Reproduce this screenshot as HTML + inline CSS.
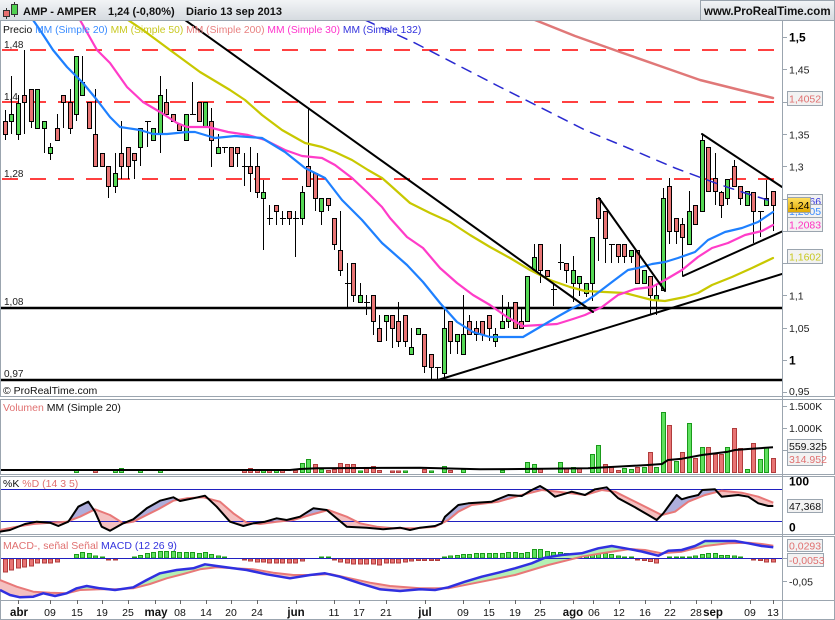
<!DOCTYPE html>
<html><head><meta charset="utf-8"><style>
html,body{margin:0;padding:0;background:#fff;}
svg{display:block;font-family:"Liberation Sans",sans-serif;}
</style></head><body>
<svg width="835" height="620" viewBox="0 0 835 620" xmlns="http://www.w3.org/2000/svg">
<defs>
<linearGradient id="hg" x1="0" y1="0" x2="0" y2="1"><stop offset="0" stop-color="#f2f4f6"/><stop offset="1" stop-color="#d6dbe0"/></linearGradient>
<linearGradient id="gold" x1="0" y1="0" x2="0" y2="1"><stop offset="0" stop-color="#ffe060"/><stop offset="1" stop-color="#e0a800"/></linearGradient>
<clipPath id="cm"><rect x="1" y="21" width="781" height="375"/></clipPath>
<clipPath id="aboveD"><polygon points="0,530 16.7,526.7 33.3,524 50,522.7 66.7,521.7 80,516.7 95,509.3 110,515 123.3,523.3 133.3,521.7 146.7,515 160,508.3 173.3,500.7 186.7,498.3 203.3,497.3 220,501.7 233.3,513.3 246.7,522.7 260,524 276.7,521.7 293.3,520 310,515 328.3,510 346.7,516.7 360,523.3 376.7,526.7 393.3,528.3 415,528.3 435,526.7 448.3,520 458.3,511.7 471.7,505 498.3,501.7 521.7,495 541.7,490 558.3,491.7 585,495 601.7,490 615,491.7 631.7,500 648.3,508.3 661.7,515 675,511.7 688.3,501.7 705,495 721.7,490.7 741.7,492.7 758.3,496.7 773.3,502.7 773.3,476 0,476"/></clipPath>
<clipPath id="belowD"><polygon points="0,530 16.7,526.7 33.3,524 50,522.7 66.7,521.7 80,516.7 95,509.3 110,515 123.3,523.3 133.3,521.7 146.7,515 160,508.3 173.3,500.7 186.7,498.3 203.3,497.3 220,501.7 233.3,513.3 246.7,522.7 260,524 276.7,521.7 293.3,520 310,515 328.3,510 346.7,516.7 360,523.3 376.7,526.7 393.3,528.3 415,528.3 435,526.7 448.3,520 458.3,511.7 471.7,505 498.3,501.7 521.7,495 541.7,490 558.3,491.7 585,495 601.7,490 615,491.7 631.7,500 648.3,508.3 661.7,515 675,511.7 688.3,501.7 705,495 721.7,490.7 741.7,492.7 758.3,496.7 773.3,502.7 773.3,534 0,534"/></clipPath>
<clipPath id="aboveS"><polygon points="0,580 16.7,586.7 33.3,591.7 50,592.7 66.7,593.3 80,590 100,589.3 116.7,589.3 133.3,588.3 150,584 166.7,578.3 183.3,574 200,569.3 216.7,567.3 233.3,568.3 253.3,569.3 273.3,572.7 293.3,575 313.3,575 330,574 350,578.3 370,582.7 390,586 420,588.3 448.3,588.3 481.7,581.7 515,575 548.3,565 581.7,556.7 605,552.7 630,549 645,550 661.7,553.3 681.7,551.7 705,546 728.3,543.3 748.3,542.7 761.7,544 773.3,545.7 773.3,536 0,536"/></clipPath>
<clipPath id="belowS"><polygon points="0,580 16.7,586.7 33.3,591.7 50,592.7 66.7,593.3 80,590 100,589.3 116.7,589.3 133.3,588.3 150,584 166.7,578.3 183.3,574 200,569.3 216.7,567.3 233.3,568.3 253.3,569.3 273.3,572.7 293.3,575 313.3,575 330,574 350,578.3 370,582.7 390,586 420,588.3 448.3,588.3 481.7,581.7 515,575 548.3,565 581.7,556.7 605,552.7 630,549 645,550 661.7,553.3 681.7,551.7 705,546 728.3,543.3 748.3,542.7 761.7,544 773.3,545.7 773.3,600 0,600"/></clipPath>
</defs>

<rect x="0" y="0" width="835" height="620" fill="#fff"/>
<!-- header -->
<rect x="0" y="0" width="835" height="20" fill="url(#hg)"/>
<line x1="0" y1="20.5" x2="835" y2="20.5" stroke="#9ba5af"/>
<rect x="700.5" y="0.5" width="134" height="20" fill="url(#hg)" stroke="#9ba5af"/>
<line x1="6.5" y1="8" x2="6.5" y2="19" stroke="#333"/><rect x="3.5" y="10.5" width="6" height="6" fill="#e87070" stroke="#333"/>
<line x1="14.5" y1="2" x2="14.5" y2="17" stroke="#333"/><rect x="11.5" y="4.5" width="6" height="10" fill="#50d050" stroke="#333"/>
<text x="23" y="15" font-size="11" font-weight="bold" fill="#111">AMP - AMPER</text>
<text x="108" y="15" font-size="11" font-weight="bold" fill="#111">1,24 (-0,80%)</text>
<text x="186" y="15" font-size="11" font-weight="bold" fill="#111">Diario  13 sep 2013</text>
<text x="704" y="15" font-size="11.5" font-weight="bold" fill="#111">www.ProRealTime.com</text>

<!-- frames -->
<rect x="0.5" y="20.5" width="834" height="376" fill="none" stroke="#9ba5af"/>
<rect x="0.5" y="399.5" width="834" height="75" fill="none" stroke="#9ba5af"/>
<rect x="0.5" y="476.5" width="834" height="58" fill="none" stroke="#9ba5af"/>
<rect x="0.5" y="536.5" width="834" height="64" fill="none" stroke="#9ba5af"/>
<rect x="0.5" y="600.5" width="834" height="19" fill="none" stroke="#9ba5af"/>
<line x1="782.5" y1="20" x2="782.5" y2="620" stroke="#9ba5af"/>

<!-- main panel -->
<g clip-path="url(#cm)">
<g stroke="#ff0000" stroke-width="1.5" stroke-dasharray="16 12">
<line x1="2" y1="50" x2="782" y2="50"/>
<line x1="2" y1="102" x2="782" y2="102"/>
<line x1="2" y1="179" x2="782" y2="179"/>
</g>
<line x1="0" y1="308" x2="782" y2="308" stroke="#000" stroke-width="2.5"/>
<line x1="0" y1="380" x2="782" y2="380" stroke="#000" stroke-width="2.5"/>

<!-- candles -->
<path fill="none" stroke="#000" stroke-width="1" d="M5.5 110V140M11.5 76V134M18.5 95V140M24.5 50V134M31.5 89V128M37.5 89V128M44.5 121V153M50.5 143V160M57.5 114V140M63.5 95V128M70.5 89V134M76.5 56V121M82.5 56V95M89.5 102V128M95.5 89V166M102.5 153V166M108.5 166V198M115.5 153V193M121.5 121V179M128.5 147V179M134.5 153V179M140.5 128V166M147.5 121V147M153.5 128V140M160.5 76V153M166.5 89V114M173.5 114V121M179.5 124V130M186.5 114V140M192.5 82V114M199.5 102V121M205.5 102V126M211.5 108V167M218.5 134V153M224.5 147V153M231.5 147V166M237.5 147V167M244.5 153V186M250.5 147V192M257.5 153V198M263.5 180V250M269.5 205V225M276.5 205V225M282.5 211V225M289.5 211V225M295.5 211V257M302.5 186V225M308.5 108V186M315.5 173V211M321.5 198V225M328.5 198V211M334.5 218V250M340.5 211V276M347.5 263V308M353.5 263V302M360.5 283V302M366.5 295V315M373.5 295V335M379.5 315V341M386.5 315V341M392.5 315V348M398.5 302V347M405.5 315V347M411.5 328V354M418.5 328V334M424.5 334V373M431.5 354V379M437.5 367V380M444.5 308V380M450.5 321V354M457.5 334V354M463.5 295V354M469.5 315V334M476.5 321V341M482.5 321V341M489.5 315V341M495.5 328V347M502.5 295V328M508.5 302V328M515.5 302V328M521.5 308V328M527.5 276V321M534.5 244V270M540.5 244V283M547.5 270V276M553.5 283V306M560.5 244V270M566.5 263V283M573.5 256V302M579.5 276V296M586.5 283V297M592.5 237V301M598.5 198V261M605.5 211V263M611.5 244V263M618.5 244V263M624.5 244V263M631.5 250V263M637.5 250V283M644.5 270V283M650.5 276V315M656.5 285V315M663.5 188V290M669.5 178V244M676.5 218V244M682.5 218V276M689.5 191V244M695.5 205V224M702.5 135V211M708.5 147V191M715.5 153V205M721.5 191V218M727.5 179V205M734.5 160V186M740.5 186V205M747.5 191V205M753.5 192V243M760.5 211V237M766.5 180V205M773.5 191V231M145 121.5h6M190 114.5h6M222 147.5h6M242 166.5h6M267 218.5h6M280 218.5h6M293 218.5h6M345 283.5h6M364 302.5h6M435 367.5h6M551 289.5h6M558 262.5h6M609 244.5h6M758 211.5h6"/>
<path fill="#55d855" stroke="#000" stroke-width="1" d="M9.5 114.5h4V121.5h-4zM16.5 103.5h4V134.5h-4zM35.5 89.5h4V128.5h-4zM42.5 121.5h4V128.5h-4zM48.5 147.5h4V153.5h-4zM74.5 56.5h4V114.5h-4zM80.5 82.5h4V95.5h-4zM113.5 173.5h4V186.5h-4zM138.5 128.5h4V147.5h-4zM151.5 128.5h4V140.5h-4zM158.5 95.5h4V134.5h-4zM184.5 114.5h4V140.5h-4zM203.5 102.5h4V126.5h-4zM216.5 147.5h4V153.5h-4zM261.5 192.5h4V198.5h-4zM300.5 192.5h4V218.5h-4zM319.5 198.5h4V211.5h-4zM358.5 295.5h4V302.5h-4zM384.5 315.5h4V321.5h-4zM409.5 347.5h4V354.5h-4zM416.5 328.5h4V334.5h-4zM442.5 328.5h4V373.5h-4zM455.5 334.5h4V341.5h-4zM461.5 334.5h4V354.5h-4zM493.5 334.5h4V341.5h-4zM500.5 321.5h4V328.5h-4zM506.5 308.5h4V321.5h-4zM525.5 276.5h4V321.5h-4zM532.5 257.5h4V270.5h-4zM571.5 270.5h4V283.5h-4zM577.5 276.5h4V283.5h-4zM584.5 283.5h4V293.5h-4zM590.5 237.5h4V283.5h-4zM629.5 250.5h4V256.5h-4zM642.5 270.5h4V283.5h-4zM654.5 295.5h4V300.5h-4zM661.5 198.5h4V290.5h-4zM687.5 211.5h4V244.5h-4zM700.5 140.5h4V211.5h-4zM725.5 179.5h4V198.5h-4zM745.5 191.5h4V205.5h-4zM764.5 198.5h4V205.5h-4z"/>
<path fill="#e87474" stroke="#000" stroke-width="1" d="M3.5 121.5h4V134.5h-4zM22.5 95.5h4V102.5h-4zM29.5 89.5h4V121.5h-4zM55.5 128.5h4V140.5h-4zM61.5 95.5h4V102.5h-4zM68.5 102.5h4V128.5h-4zM87.5 102.5h4V128.5h-4zM93.5 134.5h4V166.5h-4zM100.5 153.5h4V166.5h-4zM106.5 166.5h4V186.5h-4zM119.5 153.5h4V166.5h-4zM126.5 147.5h4V166.5h-4zM132.5 153.5h4V160.5h-4zM164.5 102.5h4V114.5h-4zM171.5 114.5h4V121.5h-4zM177.5 124.5h4V130.5h-4zM197.5 102.5h4V121.5h-4zM209.5 121.5h4V140.5h-4zM229.5 147.5h4V166.5h-4zM235.5 147.5h4V153.5h-4zM248.5 166.5h4V173.5h-4zM255.5 166.5h4V192.5h-4zM274.5 205.5h4V211.5h-4zM287.5 211.5h4V218.5h-4zM306.5 166.5h4V186.5h-4zM313.5 173.5h4V198.5h-4zM326.5 198.5h4V205.5h-4zM332.5 218.5h4V244.5h-4zM338.5 250.5h4V270.5h-4zM351.5 263.5h4V295.5h-4zM371.5 295.5h4V321.5h-4zM377.5 328.5h4V341.5h-4zM390.5 315.5h4V328.5h-4zM396.5 321.5h4V341.5h-4zM403.5 315.5h4V341.5h-4zM422.5 334.5h4V366.5h-4zM429.5 354.5h4V367.5h-4zM448.5 321.5h4V341.5h-4zM467.5 321.5h4V334.5h-4zM474.5 328.5h4V334.5h-4zM480.5 321.5h4V334.5h-4zM487.5 315.5h4V328.5h-4zM513.5 302.5h4V328.5h-4zM519.5 321.5h4V328.5h-4zM538.5 244.5h4V270.5h-4zM545.5 270.5h4V276.5h-4zM564.5 263.5h4V270.5h-4zM596.5 198.5h4V218.5h-4zM603.5 211.5h4V238.5h-4zM616.5 244.5h4V256.5h-4zM622.5 244.5h4V256.5h-4zM635.5 250.5h4V283.5h-4zM648.5 276.5h4V295.5h-4zM667.5 186.5h4V231.5h-4zM674.5 218.5h4V231.5h-4zM680.5 224.5h4V237.5h-4zM693.5 205.5h4V224.5h-4zM706.5 147.5h4V191.5h-4zM713.5 178.5h4V191.5h-4zM719.5 192.5h4V205.5h-4zM732.5 166.5h4V186.5h-4zM738.5 186.5h4V198.5h-4zM751.5 192.5h4V211.5h-4zM771.5 191.5h4V205.5h-4z"/>

<!-- moving averages -->
<g fill="none" stroke-linejoin="round" stroke-linecap="round">
<polyline stroke="#e07878" stroke-width="2.5" points="535,20 575,36 620,52 660,66 700,80 740,90 773,98"/>
<polyline stroke="#2a2ad0" stroke-width="1.5" stroke-dasharray="10 8" points="365,20 413,42 500,87 585,130 628,148 675,168 718,184 741,191.7 773,201.7"/>
<polyline stroke="#c8c800" stroke-width="2.2" points="128,20 143,30 170,50 200,72 230,90 245,100 262,115 282,130 305,143 322,147 335,152 352,160 368,170 382,178 390,185 410,203 430,213 450,222 470,235 490,247 510,258 530,270 550,280 570,287 585,291 605,292 625,293 652,300 665,301 685,297 698,293 712,285 732,277 752,268 773,258"/>
<polyline stroke="#ff3cc8" stroke-width="2.2" points="80,20 97,50 110,63 127,87 143,102 160,112 177,123 187,127 195,127 208,127 228,132 248,135 265,140 285,150 302,156 322,158 335,165 352,178 368,193 382,207 390,218 407,237 423,248 440,268 457,283 473,295 490,305 507,317 523,326 540,325 557,324 573,319 585,315 602,307 618,295 635,289 652,287 665,280 682,270 698,257 712,248 728,243 745,235 762,231 773,225"/>
<polyline stroke="#1e80ff" stroke-width="2.2" points="33,20 40,30 53,50 67,67 83,83 97,100 110,117 120,127 140,130 153,134 167,134 187,132 195,132 215,138 235,136 262,138 285,152 305,168 325,178 342,200 362,220 382,243 390,250 407,265 423,282 440,303 457,322 473,332 490,337 507,337 523,337 540,327 557,317 573,308 585,302 595,295 612,282 628,270 638,268 652,264 665,262 678,258 695,252 708,240 725,232 742,228 758,222 773,212"/>
</g>
<!-- trend lines -->
<g stroke="#000" stroke-width="2" stroke-linecap="round">
<line x1="185" y1="20" x2="593" y2="312"/>
<line x1="438" y1="380" x2="782" y2="274"/>
<line x1="599" y1="198" x2="665" y2="291"/>
<line x1="702" y1="134" x2="782" y2="187"/>
<line x1="683" y1="276" x2="782" y2="231.5"/>
</g>
</g>

<g font-size="10" fill="#222">
<text x="4" y="48">1,48</text>
<text x="4" y="100">1,4</text>
<text x="4" y="177">1,28</text>
<text x="4" y="305">1,08</text>
<text x="4" y="377">0,97</text>
</g>
<text x="3" y="33" font-size="10.3"><tspan fill="#111">Precio </tspan><tspan fill="#3a8cff">MM (Simple 20) </tspan><tspan fill="#c8c820">MM (Simple 50) </tspan><tspan fill="#e88080">MM (Simple 200) </tspan><tspan fill="#ff33cc">MM (Simple 30) </tspan><tspan fill="#3333dd">MM (Simple 132)</tspan></text>
<text x="3" y="394" font-size="10.5" fill="#111">© ProRealTime.com</text>

<!-- right axis main -->
<g stroke="#9ba5af"><path d="M782 37.5h5M782 69.5h5M782 102.5h5M782 134.5h5M782 166.5h5M782 199.5h5M782 231.5h5M782 263.5h5M782 295.5h5M782 328.5h5M782 360.5h5M782 392.5h5M782 406.5h5M782 428.5h5M782 450.5h5M782 558.5h5M782 581.5h5"/></g>
<g font-size="10.5" fill="#222">
<text x="789" y="41.5" font-weight="bold" font-size="12" fill="#000">1,5</text>
<text x="789" y="73.5">1,45</text>
<text x="789" y="138.5">1,35</text>
<text x="789" y="170.5">1,3</text>
<text x="789" y="299.5">1,1</text>
<text x="789" y="332">1,05</text>
<text x="789" y="364.5" font-weight="bold" font-size="12" fill="#000">1</text>
<text x="789" y="395">0,95</text>
</g>
<rect x="787.5" y="91.5" width="35" height="14" fill="#f2f2f2" stroke="#9ba5af"/>
<text x="789" y="102.5" font-size="10.5" fill="#e07070">1,4052</text>
<rect x="787.5" y="194.5" width="35" height="13" fill="#f2f2f2" stroke="#9ba5af"/>
<text x="789" y="205" font-size="10.5" fill="#3333dd">1,2066</text>
<rect x="787.5" y="204.5" width="35" height="13" fill="#f2f2f2" stroke="#9ba5af"/>
<text x="789" y="215" font-size="10.5" fill="#3a8cff">1,2005</text>
<rect x="787.5" y="197.5" width="23" height="15" fill="url(#gold)" stroke="#9ba5af"/>
<text x="789" y="209" font-size="10.5" fill="#000">1,24</text>
<rect x="787.5" y="217.5" width="35" height="14" fill="#f2f2f2" stroke="#9ba5af"/>
<text x="789" y="228.5" font-size="10.5" fill="#ff30c0">1,2083</text>
<rect x="787.5" y="249.5" width="35" height="14" fill="#f2f2f2" stroke="#9ba5af"/>
<text x="789" y="260.5" font-size="10.5" fill="#c8c820">1,1602</text>

<!-- volume -->
<path fill="#5ee05e" stroke="#1a9a1a" stroke-width="1" d="M74.5 470.5h4V472.5h-4zM113.5 470.5h4V472.5h-4zM119.5 468.5h4V472.5h-4zM138.5 470.5h4V472.5h-4zM158.5 470.5h4V472.5h-4zM261.5 469.5h4V472.5h-4zM274.5 469.5h4V472.5h-4zM300.5 463.5h4V472.5h-4zM306.5 459.5h4V472.5h-4zM319.5 469.5h4V472.5h-4zM358.5 471h4V472.5h-4zM403.5 471h4V472.5h-4zM429.5 471h4V472.5h-4zM442.5 466.5h4V472.5h-4zM461.5 469.5h4V472.5h-4zM500.5 470.5h4V472.5h-4zM525.5 462.5h4V472.5h-4zM532.5 464.5h4V472.5h-4zM558.5 462.5h4V472.5h-4zM571.5 467.5h4V472.5h-4zM590.5 454.5h4V472.5h-4zM596.5 445.5h4V472.5h-4zM622.5 468.5h4V472.5h-4zM629.5 469.5h4V472.5h-4zM642.5 467.5h4V472.5h-4zM654.5 467.5h4V472.5h-4zM661.5 412.5h4V472.5h-4zM674.5 461.5h4V472.5h-4zM687.5 423.5h4V472.5h-4zM700.5 447.5h4V472.5h-4zM725.5 447.5h4V472.5h-4zM745.5 469.5h4V472.5h-4zM758.5 459.5h4V472.5h-4zM764.5 447.5h4V472.5h-4z"/>
<path fill="#e87474" stroke="#b03c3c" stroke-width="1" d="M93.5 469.5h4V472.5h-4zM242.5 470.5h4V472.5h-4zM248.5 468.5h4V472.5h-4zM255.5 469.5h4V472.5h-4zM267.5 470.5h4V472.5h-4zM280.5 470.5h4V472.5h-4zM293.5 470.5h4V472.5h-4zM313.5 464.5h4V472.5h-4zM326.5 470.5h4V472.5h-4zM332.5 469.5h4V472.5h-4zM338.5 463.5h4V472.5h-4zM345.5 464.5h4V472.5h-4zM351.5 464.5h4V472.5h-4zM364.5 468.5h4V472.5h-4zM371.5 466.5h4V472.5h-4zM377.5 470.5h4V472.5h-4zM390.5 471h4V472.5h-4zM396.5 471h4V472.5h-4zM422.5 469.5h4V472.5h-4zM448.5 470.5h4V472.5h-4zM538.5 468.5h4V472.5h-4zM564.5 468.5h4V472.5h-4zM577.5 468.5h4V472.5h-4zM603.5 464.5h4V472.5h-4zM609.5 466.5h4V472.5h-4zM616.5 470.5h4V472.5h-4zM635.5 467.5h4V472.5h-4zM648.5 452.5h4V472.5h-4zM667.5 425.5h4V472.5h-4zM680.5 452.5h4V472.5h-4zM693.5 458.5h4V472.5h-4zM706.5 447.5h4V472.5h-4zM713.5 454.5h4V472.5h-4zM719.5 454.5h4V472.5h-4zM732.5 428.5h4V472.5h-4zM738.5 448.5h4V472.5h-4zM751.5 443.5h4V472.5h-4zM771.5 458.5h4V472.5h-4z"/>
<polyline fill="none" stroke="#000" stroke-width="2" stroke-linejoin="round" points="1,470 290,470 300,469 317,468.3 420,467.7 480,469.3 520,469 588,468.3 648,465 662,464 668,460 682,458.7 702,455 728,451.7 735,450 748,449 773,447.3"/>
<text x="3" y="411" font-size="10.5"><tspan fill="#e07070">Volumen </tspan><tspan fill="#111">MM (Simple 20)</tspan></text>
<g font-size="10.5" fill="#222">
<text x="789" y="410">1.500K</text>
<text x="789" y="432">1.000K</text>
</g>
<rect x="787.5" y="439.5" width="35" height="13" fill="#f2f2f2" stroke="#9ba5af"/>
<text x="789" y="450" font-size="10.5" fill="#111">559.325</text>
<rect x="787.5" y="452.5" width="35" height="13" fill="#f2f2f2" stroke="#9ba5af"/>
<text x="789" y="463" font-size="10.5" fill="#e07070">314.952</text>

<!-- stochastic -->
<g>
<polygon clip-path="url(#aboveD)" fill="#aeaedc" points="0,531.7 10,530 25,524 36.7,521.7 50,522.7 58.3,526 68.3,521.7 71.7,516.7 78.3,506.7 88.3,501.7 95,511.7 101.7,526.7 110,530.7 123.3,523.3 133.3,519.3 146.7,508.3 160,500.7 173.3,497.3 180,501 193.3,498.3 205,495.7 216.7,506.7 230,521.7 243.3,526 253.3,523.3 265,521.7 276.7,518.3 286.7,520 300,516.7 313.3,508.3 326.7,510 346.7,526.7 366.7,527.7 383.3,529.3 400,527.7 410,530 420,527.7 435,526 441.7,523.3 445,516.7 458.3,505 468.3,503.3 491.7,501.7 508.3,495 521.7,496 531.7,490 540,486 546.7,490 555,496.7 571.7,491.7 585,495 595,489.3 606.7,487.3 618.3,498.3 635,507.3 648.3,515 656.7,520 663.3,513.3 676.7,495 681.7,499.3 688.3,497.3 698.3,495 702.3,490 715,489.3 721.7,496.7 738.3,495 748.3,496.7 758.3,503.3 768.3,506 773.3,506 773.3,502.7 758.3,496.7 741.7,492.7 721.7,490.7 705,495 688.3,501.7 675,511.7 661.7,515 648.3,508.3 631.7,500 615,491.7 601.7,490 585,495 558.3,491.7 541.7,490 521.7,495 498.3,501.7 471.7,505 458.3,511.7 448.3,520 435,526.7 415,528.3 393.3,528.3 376.7,526.7 360,523.3 346.7,516.7 328.3,510 310,515 293.3,520 276.7,521.7 260,524 246.7,522.7 233.3,513.3 220,501.7 203.3,497.3 186.7,498.3 173.3,500.7 160,508.3 146.7,515 133.3,521.7 123.3,523.3 110,515 95,509.3 80,516.7 66.7,521.7 50,522.7 33.3,524 16.7,526.7 0,530"/>
<polygon clip-path="url(#belowD)" fill="#f4c0c0" points="0,531.7 10,530 25,524 36.7,521.7 50,522.7 58.3,526 68.3,521.7 71.7,516.7 78.3,506.7 88.3,501.7 95,511.7 101.7,526.7 110,530.7 123.3,523.3 133.3,519.3 146.7,508.3 160,500.7 173.3,497.3 180,501 193.3,498.3 205,495.7 216.7,506.7 230,521.7 243.3,526 253.3,523.3 265,521.7 276.7,518.3 286.7,520 300,516.7 313.3,508.3 326.7,510 346.7,526.7 366.7,527.7 383.3,529.3 400,527.7 410,530 420,527.7 435,526 441.7,523.3 445,516.7 458.3,505 468.3,503.3 491.7,501.7 508.3,495 521.7,496 531.7,490 540,486 546.7,490 555,496.7 571.7,491.7 585,495 595,489.3 606.7,487.3 618.3,498.3 635,507.3 648.3,515 656.7,520 663.3,513.3 676.7,495 681.7,499.3 688.3,497.3 698.3,495 702.3,490 715,489.3 721.7,496.7 738.3,495 748.3,496.7 758.3,503.3 768.3,506 773.3,506 773.3,502.7 758.3,496.7 741.7,492.7 721.7,490.7 705,495 688.3,501.7 675,511.7 661.7,515 648.3,508.3 631.7,500 615,491.7 601.7,490 585,495 558.3,491.7 541.7,490 521.7,495 498.3,501.7 471.7,505 458.3,511.7 448.3,520 435,526.7 415,528.3 393.3,528.3 376.7,526.7 360,523.3 346.7,516.7 328.3,510 310,515 293.3,520 276.7,521.7 260,524 246.7,522.7 233.3,513.3 220,501.7 203.3,497.3 186.7,498.3 173.3,500.7 160,508.3 146.7,515 133.3,521.7 123.3,523.3 110,515 95,509.3 80,516.7 66.7,521.7 50,522.7 33.3,524 16.7,526.7 0,530"/>
</g>
<line x1="1" y1="489.5" x2="782" y2="489.5" stroke="#2020c0" stroke-width="1"/>
<line x1="1" y1="521.5" x2="782" y2="521.5" stroke="#2020c0" stroke-width="1"/>
<polyline fill="none" stroke="#e87878" stroke-width="2" stroke-linejoin="round" points="0,530 16.7,526.7 33.3,524 50,522.7 66.7,521.7 80,516.7 95,509.3 110,515 123.3,523.3 133.3,521.7 146.7,515 160,508.3 173.3,500.7 186.7,498.3 203.3,497.3 220,501.7 233.3,513.3 246.7,522.7 260,524 276.7,521.7 293.3,520 310,515 328.3,510 346.7,516.7 360,523.3 376.7,526.7 393.3,528.3 415,528.3 435,526.7 448.3,520 458.3,511.7 471.7,505 498.3,501.7 521.7,495 541.7,490 558.3,491.7 585,495 601.7,490 615,491.7 631.7,500 648.3,508.3 661.7,515 675,511.7 688.3,501.7 705,495 721.7,490.7 741.7,492.7 758.3,496.7 773.3,502.7"/>
<polyline fill="none" stroke="#000" stroke-width="2" stroke-linejoin="round" points="0,531.7 10,530 25,524 36.7,521.7 50,522.7 58.3,526 68.3,521.7 71.7,516.7 78.3,506.7 88.3,501.7 95,511.7 101.7,526.7 110,530.7 123.3,523.3 133.3,519.3 146.7,508.3 160,500.7 173.3,497.3 180,501 193.3,498.3 205,495.7 216.7,506.7 230,521.7 243.3,526 253.3,523.3 265,521.7 276.7,518.3 286.7,520 300,516.7 313.3,508.3 326.7,510 346.7,526.7 366.7,527.7 383.3,529.3 400,527.7 410,530 420,527.7 435,526 441.7,523.3 445,516.7 458.3,505 468.3,503.3 491.7,501.7 508.3,495 521.7,496 531.7,490 540,486 546.7,490 555,496.7 571.7,491.7 585,495 595,489.3 606.7,487.3 618.3,498.3 635,507.3 648.3,515 656.7,520 663.3,513.3 676.7,495 681.7,499.3 688.3,497.3 698.3,495 702.3,490 715,489.3 721.7,496.7 738.3,495 748.3,496.7 758.3,503.3 768.3,506 773.3,506"/>
<text x="3" y="487" font-size="10.5"><tspan fill="#111">%K </tspan><tspan fill="#e07070">%D (14 3 5)</tspan></text>
<text x="789" y="485.5" font-size="12" font-weight="bold" fill="#000">100</text>
<text x="789" y="531.5" font-size="12" font-weight="bold" fill="#000">0</text>
<rect x="787.5" y="499.5" width="35" height="13" fill="#f2f2f2" stroke="#9ba5af"/>
<text x="789" y="510" font-size="10.5" fill="#111">47,368</text>

<!-- MACD -->
<path fill="#5ee05e" stroke="#1a9a1a" stroke-width="1" d="M74.5 554.5h4V558h-4zM80.5 552.5h4V558h-4zM87.5 553.5h4V558h-4zM93.5 556h4V558h-4zM100.5 557h4V558h-4zM132.5 557h4V558h-4zM138.5 555.5h4V558h-4zM145.5 553.5h4V558h-4zM151.5 552.5h4V558h-4zM158.5 551.5h4V558h-4zM164.5 551.5h4V558h-4zM171.5 551.5h4V558h-4zM177.5 552.5h4V558h-4zM184.5 552.5h4V558h-4zM190.5 552.5h4V558h-4zM197.5 553.5h4V558h-4zM203.5 552.5h4V558h-4zM209.5 554.5h4V558h-4zM216.5 556h4V558h-4zM222.5 557h4V558h-4zM319.5 557h4V558h-4zM326.5 557h4V558h-4zM442.5 557h4V558h-4zM448.5 556h4V558h-4zM455.5 555.5h4V558h-4zM461.5 554.5h4V558h-4zM467.5 554.5h4V558h-4zM474.5 553.5h4V558h-4zM480.5 553.5h4V558h-4zM487.5 553.5h4V558h-4zM493.5 553.5h4V558h-4zM500.5 553.5h4V558h-4zM506.5 552.5h4V558h-4zM513.5 552.5h4V558h-4zM519.5 553.5h4V558h-4zM525.5 552.5h4V558h-4zM532.5 549.5h4V558h-4zM538.5 549.5h4V558h-4zM545.5 551.5h4V558h-4zM551.5 552.5h4V558h-4zM558.5 552.5h4V558h-4zM564.5 553.5h4V558h-4zM571.5 553.5h4V558h-4zM577.5 553.5h4V558h-4zM584.5 553.5h4V558h-4zM590.5 553.5h4V558h-4zM596.5 553.5h4V558h-4zM603.5 553.5h4V558h-4zM609.5 554.5h4V558h-4zM616.5 556h4V558h-4zM622.5 557h4V558h-4zM629.5 557h4V558h-4zM667.5 557h4V558h-4zM674.5 557h4V558h-4zM680.5 557h4V558h-4zM687.5 557h4V558h-4zM693.5 556h4V558h-4zM700.5 554.5h4V558h-4zM706.5 553.5h4V558h-4zM713.5 553.5h4V558h-4zM719.5 555.5h4V558h-4zM725.5 555.5h4V558h-4zM732.5 556h4V558h-4zM738.5 557h4V558h-4z"/>
<path fill="#e87474" stroke="#b03c3c" stroke-width="1" d="M3.5 559h4V572h-4zM9.5 559h4V570h-4zM16.5 559h4V568h-4zM22.5 559h4V567h-4zM29.5 559h4V566h-4zM35.5 559h4V563h-4zM42.5 559h4V563h-4zM48.5 559h4V563h-4zM55.5 559h4V562h-4zM106.5 559h4V560h-4zM113.5 559h4V560h-4zM242.5 559h4V560h-4zM248.5 559h4V561h-4zM255.5 559h4V562h-4zM261.5 559h4V562h-4zM267.5 559h4V563h-4zM274.5 559h4V563h-4zM280.5 559h4V563h-4zM287.5 559h4V563h-4zM293.5 559h4V563h-4zM300.5 559h4V561h-4zM332.5 559h4V560h-4zM338.5 559h4V562h-4zM345.5 559h4V563h-4zM351.5 559h4V564h-4zM358.5 559h4V564h-4zM364.5 559h4V564h-4zM371.5 559h4V564h-4zM377.5 559h4V565h-4zM384.5 559h4V563h-4zM390.5 559h4V563h-4zM396.5 559h4V563h-4zM403.5 559h4V562h-4zM409.5 559h4V561h-4zM416.5 559h4V560.5h-4zM422.5 559h4V560.5h-4zM429.5 559h4V560.5h-4zM435.5 559h4V560.5h-4zM635.5 559h4V560h-4zM642.5 559h4V560.5h-4zM648.5 559h4V561.5h-4zM654.5 559h4V563h-4zM751.5 559h4V560h-4zM758.5 559h4V560.5h-4zM764.5 559h4V562h-4zM771.5 559h4V562h-4z"/>
<polygon clip-path="url(#aboveS)" fill="#b4f0b4" points="0,590 10,595 20,597.3 33.3,596.7 43.3,593.3 55,596 66.7,593.3 76.7,588.3 86.7,586 100,588.3 115,590 133.3,587.3 146.7,580 160,573.3 176.7,570 193.3,568.3 205,564.3 216.7,566 233.3,568.3 246.7,570 266.7,574.3 290,578.3 310,575 325,573.3 340,576.7 360,583.3 380,589.3 400,591 420,589.3 435,590 448.3,587.3 465,581.7 481.7,576.7 498.3,572.7 515,568.3 531.7,563.3 545,557.7 561.7,555 581.7,553.3 598.3,548.3 611.7,546 625,548.3 641.7,551.5 658.3,555.7 668.3,550.7 681.7,550 695,546 705,541 721.7,541 735,541 748.3,543.3 761.7,546 773.3,547.3 773.3,545.7 761.7,544 748.3,542.7 728.3,543.3 705,546 681.7,551.7 661.7,553.3 645,550 630,549 605,552.7 581.7,556.7 548.3,565 515,575 481.7,581.7 448.3,588.3 420,588.3 390,586 370,582.7 350,578.3 330,574 313.3,575 293.3,575 273.3,572.7 253.3,569.3 233.3,568.3 216.7,567.3 200,569.3 183.3,574 166.7,578.3 150,584 133.3,588.3 116.7,589.3 100,589.3 80,590 66.7,593.3 50,592.7 33.3,591.7 16.7,586.7 0,580"/>
<polygon clip-path="url(#belowS)" fill="#f4c0c0" points="0,590 10,595 20,597.3 33.3,596.7 43.3,593.3 55,596 66.7,593.3 76.7,588.3 86.7,586 100,588.3 115,590 133.3,587.3 146.7,580 160,573.3 176.7,570 193.3,568.3 205,564.3 216.7,566 233.3,568.3 246.7,570 266.7,574.3 290,578.3 310,575 325,573.3 340,576.7 360,583.3 380,589.3 400,591 420,589.3 435,590 448.3,587.3 465,581.7 481.7,576.7 498.3,572.7 515,568.3 531.7,563.3 545,557.7 561.7,555 581.7,553.3 598.3,548.3 611.7,546 625,548.3 641.7,551.5 658.3,555.7 668.3,550.7 681.7,550 695,546 705,541 721.7,541 735,541 748.3,543.3 761.7,546 773.3,547.3 773.3,545.7 761.7,544 748.3,542.7 728.3,543.3 705,546 681.7,551.7 661.7,553.3 645,550 630,549 605,552.7 581.7,556.7 548.3,565 515,575 481.7,581.7 448.3,588.3 420,588.3 390,586 370,582.7 350,578.3 330,574 313.3,575 293.3,575 273.3,572.7 253.3,569.3 233.3,568.3 216.7,567.3 200,569.3 183.3,574 166.7,578.3 150,584 133.3,588.3 116.7,589.3 100,589.3 80,590 66.7,593.3 50,592.7 33.3,591.7 16.7,586.7 0,580"/>
<line x1="1" y1="558.5" x2="782" y2="558.5" stroke="#2020c0" stroke-width="1"/>
<polyline fill="none" stroke="#e87878" stroke-width="2" stroke-linejoin="round" points="0,580 16.7,586.7 33.3,591.7 50,592.7 66.7,593.3 80,590 100,589.3 116.7,589.3 133.3,588.3 150,584 166.7,578.3 183.3,574 200,569.3 216.7,567.3 233.3,568.3 253.3,569.3 273.3,572.7 293.3,575 313.3,575 330,574 350,578.3 370,582.7 390,586 420,588.3 448.3,588.3 481.7,581.7 515,575 548.3,565 581.7,556.7 605,552.7 630,549 645,550 661.7,553.3 681.7,551.7 705,546 728.3,543.3 748.3,542.7 761.7,544 773.3,545.7"/>
<polyline fill="none" stroke="#3030e0" stroke-width="2.5" stroke-linejoin="round" points="0,590 10,595 20,597.3 33.3,596.7 43.3,593.3 55,596 66.7,593.3 76.7,588.3 86.7,586 100,588.3 115,590 133.3,587.3 146.7,580 160,573.3 176.7,570 193.3,568.3 205,564.3 216.7,566 233.3,568.3 246.7,570 266.7,574.3 290,578.3 310,575 325,573.3 340,576.7 360,583.3 380,589.3 400,591 420,589.3 435,590 448.3,587.3 465,581.7 481.7,576.7 498.3,572.7 515,568.3 531.7,563.3 545,557.7 561.7,555 581.7,553.3 598.3,548.3 611.7,546 625,548.3 641.7,551.5 658.3,555.7 668.3,550.7 681.7,550 695,546 705,541 721.7,541 735,541 748.3,543.3 761.7,546 773.3,547.3"/>
<text x="3" y="549" font-size="10.5"><tspan fill="#e07070">MACD-, señal Señal </tspan><tspan fill="#3333dd">MACD (12 26 9)</tspan></text>
<rect x="787.5" y="539.5" width="35" height="12" fill="#f2f2f2" stroke="#9ba5af"/>
<text x="789" y="549.5" font-size="10.5" fill="#e07070">0,0293</text>
<rect x="787.5" y="553.5" width="36" height="13" fill="#f2f2f2" stroke="#9ba5af"/>
<text x="789" y="564" font-size="10.5" fill="#e07070">-0,0053</text>
<text x="789" y="585.5" font-size="10.5" fill="#222">-0,05</text>

<!-- date axis -->
<path stroke="#666" d="M18.5 600v4M50.5 600v4M77.5 600v4M102.5 600v4M128.5 600v4M155.5 600v4M180.5 600v4M206.5 600v4M231.5 600v4M257.5 600v4M296.5 600v4M334.5 600v4M359.5 600v4M386.5 600v4M425.5 600v4M463.5 600v4M489.5 600v4M515.5 600v4M540.5 600v4M573.5 600v4M593.5 600v4M619.5 600v4M645.5 600v4M670.5 600v4M696.5 600v4M711.5 600v4M750.5 600v4M773.5 600v4"/>
<g font-size="10.5" fill="#111" text-anchor="middle">
<text x="19" y="616" font-weight="bold" font-size="11.5">abr</text>
<text x="50" y="616">09</text>
<text x="77" y="616">15</text>
<text x="102" y="616">19</text>
<text x="128" y="616">25</text>
<text x="156" y="616" font-weight="bold" font-size="11.5">may</text>
<text x="180" y="616">08</text>
<text x="206" y="616">14</text>
<text x="231" y="616">20</text>
<text x="257" y="616">24</text>
<text x="296" y="616" font-weight="bold" font-size="11.5">jun</text>
<text x="334" y="616">11</text>
<text x="359" y="616">17</text>
<text x="386" y="616">21</text>
<text x="425" y="616" font-weight="bold" font-size="11.5">jul</text>
<text x="463" y="616">09</text>
<text x="489" y="616">15</text>
<text x="515" y="616">19</text>
<text x="540" y="616">25</text>
<text x="573" y="616" font-weight="bold" font-size="11.5">ago</text>
<text x="594" y="616">06</text>
<text x="619" y="616">12</text>
<text x="645" y="616">16</text>
<text x="670" y="616">22</text>
<text x="696" y="616">28</text>
<text x="713" y="616" font-weight="bold" font-size="11.5">sep</text>
<text x="750" y="616">09</text>
<text x="773" y="616">13</text>
</g>
</svg>
</body></html>
